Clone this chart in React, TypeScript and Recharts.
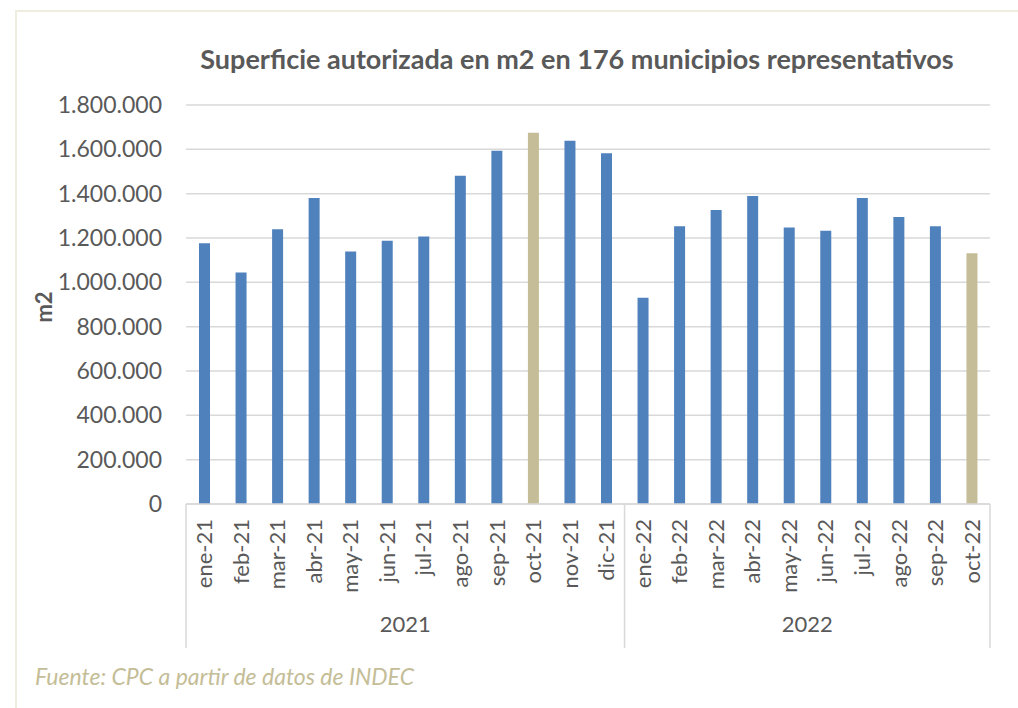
import React from 'react';
import { BarChart, Bar, XAxis, YAxis, CartesianGrid, Cell } from 'recharts';

const MONTHS = [
  'ene-21', 'feb-21', 'mar-21', 'abr-21', 'may-21', 'jun-21', 'jul-21', 'ago-21', 'sep-21', 'oct-21', 'nov-21', 'dic-21',
  'ene-22', 'feb-22', 'mar-22', 'abr-22', 'may-22', 'jun-22', 'jul-22', 'ago-22', 'sep-22', 'oct-22',
];
const YEARS = ['2021', '2021', '2021', '2021', '2021', '2021', '2021', '2021', '2021', '2021', '2021', '2021',
  '2022', '2022', '2022', '2022', '2022', '2022', '2022', '2022', '2022', '2022'];
const SURFACE = [
  1176000, 1044000, 1239000, 1381000, 1139000, 1188000, 1207000, 1481000, 1594000, 1675000, 1639000, 1582000,
  931000, 1253000, 1326000, 1390000, 1247000, 1233000, 1381000, 1295000, 1253000, 1131000,
];
const HIGHLIGHTED = ['oct-21', 'oct-22'];
const Y_TICKS = [0, 200000, 400000, 600000, 800000, 1000000, 1200000, 1400000, 1600000, 1800000];

const data = MONTHS.map((m, i) => ({ month: m, year: YEARS[i], value: SURFACE[i] }));

const W = 1018;
const H = 708;
const MARGIN = { top: 105, right: 28, bottom: 60, left: 20 };
const Y_AXIS_W = 166;
const PLOT_W = W - MARGIN.left - Y_AXIS_W - MARGIN.right;
const BAND = PLOT_W / MONTHS.length;
const AXIS_H = 144;

const FONT = 'Lato, "Open Sans", sans-serif';
const TEXT = '#595959';
const LINE = '#d9d9d9';

const fmt = (v: number) => String(v).replace(/\B(?=(\d{3})+(?!\d))/g, '.');

function MonthTick(props: any) {
  const { x, y, payload, index } = props;
  const top = y;
  const bottom = y + AXIS_H;
  const i = index ?? payload.index;
  const parts: React.ReactNode[] = [];
  const first = i === 0 || YEARS[i] !== YEARS[i - 1];
  if (first) {
    parts.push(<line key="l" x1={x - BAND / 2} x2={x - BAND / 2} y1={top} y2={bottom} stroke={LINE} strokeWidth={1.5} />);
    const count = YEARS.filter((yr) => yr === YEARS[i]).length;
    const mid = x - BAND / 2 + (count * BAND) / 2;
    parts.push(
      <text key="y" x={mid} y={top + 128} textAnchor="middle" fill={TEXT} fontSize={22} fontFamily={FONT}>
        {YEARS[i]}
      </text>
    );
  }
  if (i === MONTHS.length - 1) {
    parts.push(<line key="r" x1={x + BAND / 2} x2={x + BAND / 2} y1={top} y2={bottom} stroke={LINE} strokeWidth={1.5} />);
  }
  return (
    <g>
      {parts}
      <text
        x={x}
        y={top + 15}
        dy="0.36em"
        transform={`rotate(-90, ${x}, ${top + 15})`}
        textAnchor="end"
        fill={TEXT}
        fontSize={22}
        fontFamily={FONT}
      >
        {payload.value}
      </text>
    </g>
  );
}

export default function App() {
  return (
    <div style={{ position: 'absolute', left: 0, top: 0, width: W, height: H, background: '#fff', fontFamily: FONT }}>
      <div style={{ position: 'absolute', left: 15, top: 10, right: 0, bottom: 0, borderTop: '2px solid #eeeddf', borderLeft: '2px solid #eeeddf' }} />
      <div
        style={{
          position: 'absolute', left: 577, top: 42, transform: 'translateX(-50%)', whiteSpace: 'nowrap',
          fontSize: 27, fontWeight: 700, color: TEXT, lineHeight: '34px',
        }}
      >
        Superficie autorizada en m2 en 176 municipios representativos
      </div>
      <div
        style={{
          position: 'absolute', left: 43, top: 307, transform: 'translate(-50%, -50%) rotate(-90deg)',
          fontSize: 22, fontWeight: 700, color: TEXT, whiteSpace: 'nowrap',
        }}
      >
        m2
      </div>
      <div
        style={{
          position: 'absolute', left: 35, top: 662, fontSize: 23, fontStyle: 'italic', color: '#c4bd97', whiteSpace: 'nowrap',
        }}
      >
        Fuente: CPC a partir de datos de INDEC
      </div>
      <div style={{ position: 'absolute', left: 0, top: 0 }}>
        <BarChart width={W} height={H} data={data} margin={MARGIN} barSize={11}>
          <CartesianGrid vertical={false} stroke={LINE} strokeWidth={1.5} />
          <XAxis
            dataKey="month"
            interval={0}
            tickLine={false}
            tickSize={0}
            tickMargin={0}
            height={AXIS_H}
            axisLine={{ stroke: LINE, strokeWidth: 1.5 }}
            tick={<MonthTick />}
          />
          <YAxis
            width={Y_AXIS_W}
            domain={[0, 1800000]}
            ticks={Y_TICKS}
            tickFormatter={fmt}
            axisLine={false}
            tickLine={false}
            tickMargin={18}
            tick={{ fill: TEXT, fontSize: 23, fontFamily: FONT }}
          />
          <Bar dataKey="value" isAnimationActive={false}>
            {data.map((d) => (
              <Cell key={d.month} fill={HIGHLIGHTED.includes(d.month) ? '#c4bd97' : '#4f81bd'} />
            ))}
          </Bar>
        </BarChart>
      </div>
    </div>
  );
}
